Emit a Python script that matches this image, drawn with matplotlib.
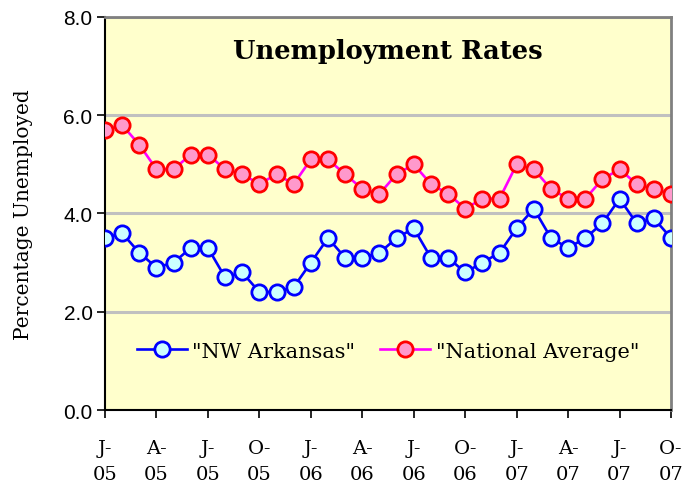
import numpy as np
import matplotlib
matplotlib.use("Agg")
import matplotlib.pyplot as plt

# monthly values, Jan 2005 .. Oct 2007
nw_arkansas = [3.5, 3.6, 3.2, 2.9, 3.0, 3.3, 3.3, 2.7, 2.8, 2.4, 2.4, 2.5,
               3.0, 3.5, 3.1, 3.1, 3.2, 3.5, 3.7, 3.1, 3.1, 2.8, 3.0, 3.2,
               3.7, 4.1, 3.5, 3.3, 3.5, 3.8, 4.3, 3.8, 3.9, 3.5]
national = [5.7, 5.8, 5.4, 4.9, 4.9, 5.2, 5.2, 4.9, 4.8, 4.6, 4.8, 4.6,
            5.1, 5.1, 4.8, 4.5, 4.4, 4.8, 5.0, 4.6, 4.4, 4.1, 4.3, 4.3,
            5.0, 4.9, 4.5, 4.3, 4.3, 4.7, 4.9, 4.6, 4.5, 4.4]
tick_labels = ["J-\n05", "A-\n05", "J-\n05", "O-\n05",
               "J-\n06", "A-\n06", "J-\n06", "O-\n06",
               "J-\n07", "A-\n07", "J-\n07", "O-\n07"]

serif = "DejaVu Serif"

fig = plt.figure(figsize=(6.85, 4.89), dpi=100)
ax = fig.add_axes([0.1533, 0.1595, 0.8263, 0.8037])
ax.set_facecolor("#FFFFCC")

x = np.arange(len(national))
ax.plot(x, nw_arkansas, color="#0000FF", lw=1.9, marker="o", ms=11,
        mfc="#CCFFFF", mec="#0000FF", mew=2.0, label='"NW Arkansas"', zorder=3)
ax.plot(x, national, color="#FF00FF", lw=1.9, marker="o", ms=11,
        mfc="#FF99CC", mec="#FF0000", mew=2.0, label='"National Average"', zorder=3)

ax.set_xlim(0, len(national) - 1)
ax.set_ylim(0, 8)
ax.set_yticks(np.arange(0, 8.1, 2))
ax.set_yticklabels([f"{v:.1f}" for v in np.arange(0, 8.1, 2)],
                   fontsize=15, family="Liberation Sans")
ax.set_xticks(x[::3])
ax.set_xticklabels(tick_labels, fontsize=14, family=serif, linespacing=1.55)
ax.tick_params(axis="x", length=6, width=1.2, pad=15)
ax.tick_params(axis="y", length=6, width=1.2, pad=3)

ax.yaxis.grid(True, color="#C0C0C0", lw=2.2)
ax.set_axisbelow(True)
for s in ["top", "right"]:
    ax.spines[s].set_color("#808080")
    ax.spines[s].set_linewidth(2)
for s in ["left", "bottom"]:
    ax.spines[s].set_color("#000000")
    ax.spines[s].set_linewidth(1.5)

ax.set_ylabel("Percentage Unemployed", fontsize=14.5, family=serif, labelpad=22)
ax.text(0.5, 0.915, "Unemployment Rates", transform=ax.transAxes,
        ha="center", va="center", fontsize=18.5, fontweight="bold", family=serif)

ax.legend(loc="center", bbox_to_anchor=(0.5, 0.15), ncol=2, frameon=False,
          prop={"family": serif, "size": 15}, handlelength=2.4,
          columnspacing=1.2, handletextpad=0.25)

fig.savefig("out.png", dpi=100)
